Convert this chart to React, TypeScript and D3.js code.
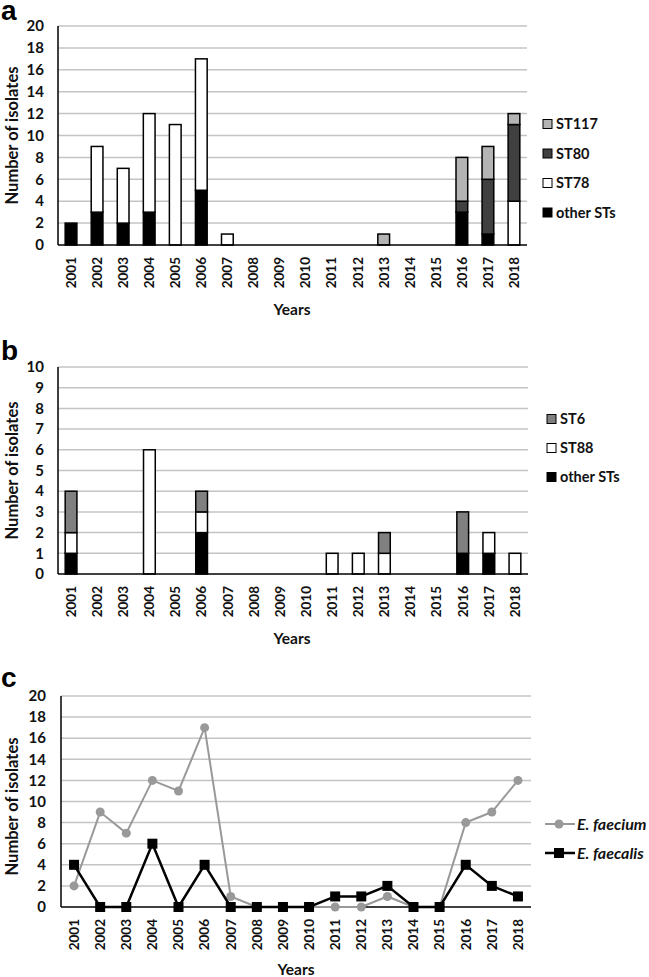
import React from "react";
import * as d3 from "d3";

const years = ["2001","2002","2003","2004","2005","2006","2007","2008","2009","2010","2011","2012","2013","2014","2015","2016","2017","2018"];

// Panel a (E. faecium STs)
const aOther = [2,3,2,3,0,5,0,0,0,0,0,0,0,0,0,3,1,0];
const aST78 = [0,6,5,9,11,12,1,0,0,0,0,0,0,0,0,0,0,4];
const aST80 = [0,0,0,0,0,0,0,0,0,0,0,0,0,0,0,1,5,7];
const aST117 = [0,0,0,0,0,0,0,0,0,0,0,0,1,0,0,4,3,1];
const aTicks = [0,2,4,6,8,10,12,14,16,18,20];

// Panel b (E. faecalis STs)
const bOther = [1,0,0,0,0,2,0,0,0,0,0,0,0,0,0,1,1,0];
const bST88 = [1,0,0,6,0,1,0,0,0,0,1,1,1,0,0,0,1,1];
const bST6 = [2,0,0,0,0,1,0,0,0,0,0,0,1,0,0,2,0,0];
const bTicks = [0,1,2,3,4,5,6,7,8,9,10];

// Panel c
const faecium = [2,9,7,12,11,17,1,0,0,0,0,0,1,0,0,8,9,12];
const faecalis = [4,0,0,6,0,4,0,0,0,0,1,1,2,0,0,4,2,1];
const cTicks = [0,2,4,6,8,10,12,14,16,18,20];

const FONT = "Lato, 'Open Sans', sans-serif";
const GRID = "#c4c4c4";

type Series = { key: string; values: number[]; color: string };

function Axes({ x0, x1, y, ticks, tickX, yearX, zeroY, labelTitleY, titleX, titleY }: any) {
  return (
    <g fontFamily={FONT} fontWeight={700}>
      {ticks.map((t: number) => (
        <g key={t}>
          {t !== 0 && <line x1={x0} x2={x1} y1={y(t)} y2={y(t)} stroke={GRID} strokeWidth={1.5} />}
          <text x={tickX} y={y(t)} dy="0.35em" textAnchor="end" fontSize={15} fill="#111">{t}</text>
        </g>
      ))}
      {years.map((yr) => (
        <text key={yr} transform={`translate(${yearX(yr)},${zeroY + 12}) rotate(-90)`} textAnchor="end" dy="0.36em" fontSize={13.5} fill="#111">{yr}</text>
      ))}
      <text x={titleX} y={titleY} textAnchor="middle" fontSize={15.5} fill="#111">Years</text>
      <text transform={`translate(12,${labelTitleY}) rotate(-90)`} textAnchor="middle" dy="0.35em" fontSize={16.5} fill="#111">Number of isolates</text>
    </g>
  );
}

function StackPanel({ series, ticks, top, bottom, left, right, legendX, legendY, legendGap }: any) {
  const max = ticks[ticks.length - 1];
  const y = d3.scaleLinear().domain([0, max]).range([bottom, top]);
  const x = d3.scaleBand().domain(years).range([left, right]).paddingInner(0.55).paddingOuter(0.275);
  const rows = years.map((yr, i) => {
    const r: any = { year: yr };
    series.forEach((s: Series) => (r[s.key] = s.values[i]));
    return r;
  });
  const stacked = d3.stack().keys(series.map((s: Series) => s.key))(rows);
  const legend = [...series].reverse();
  return (
    <g>
      <Axes x0={left} x1={right} y={y} ticks={ticks} tickX={44} yearX={(yr: string) => (x(yr) as number) + x.bandwidth() / 2} zeroY={bottom}
        labelTitleY={(top + bottom) / 2} titleX={292} titleY={bottom + 70} />
      {stacked.map((layer: any, li: number) => (
        <g key={layer.key}>
          {layer.map((d: any, i: number) =>
            d[1] - d[0] > 0 ? (
              <rect key={i} x={x(years[i])} width={x.bandwidth()} y={y(d[1])} height={y(d[0]) - y(d[1])}
                fill={series[li].color} stroke="#000" strokeWidth={1.5} />
            ) : null
          )}
        </g>
      ))}
      <line x1={left} x2={left} y1={top} y2={bottom} stroke="#000" strokeWidth={1.5} />
      <line x1={left} x2={right} y1={bottom} y2={bottom} stroke="#000" strokeWidth={1.5} />
      <g fontFamily={FONT} fontWeight={700}>
        {legend.map((s: Series, i: number) => (
          <g key={s.key} transform={`translate(${legendX},${legendY + i * legendGap})`}>
            <rect x={0} y={-4.5} width={9} height={9} fill={s.color} stroke="#000" strokeWidth={1} />
            <text x={13} y={0} dy="0.35em" fontSize={14.5} fill="#111">{s.key}</text>
          </g>
        ))}
      </g>
    </g>
  );
}

function LinePanel() {
  const top = 696, bottom = 907, left = 61, right = 531;
  const y = d3.scaleLinear().domain([0, 20]).range([bottom, top]);
  const x = d3.scalePoint().domain(years).range([left, right]).padding(0.5);
  const line = d3.line<number>().x((_, i) => x(years[i]) as number).y((v) => y(v));
  return (
    <g>
      <Axes x0={left} x1={right} y={y} ticks={cTicks} tickX={46} yearX={(yr: string) => x(yr) as number} zeroY={bottom}
        labelTitleY={(top + bottom) / 2 + 5} titleX={296} titleY={bottom + 68} />
      <line x1={left} x2={left} y1={top} y2={bottom} stroke="#000" strokeWidth={1.5} />
      <line x1={left} x2={right} y1={bottom} y2={bottom} stroke="#000" strokeWidth={1.5} />
      <path d={line(faecium) || ""} fill="none" stroke="#999" strokeWidth={2} />
      {faecium.map((v, i) => (
        <circle key={i} cx={x(years[i])} cy={y(v)} r={4.5} fill="#999" />
      ))}
      <path d={line(faecalis) || ""} fill="none" stroke="#000" strokeWidth={2.5} />
      {faecalis.map((v, i) => (
        <rect key={i} x={(x(years[i]) as number) - 5} y={y(v) - 5} width={10} height={10} fill="#000" />
      ))}
      <g fontFamily={FONT} fontWeight={700} fontStyle="italic" fontSize={16}>
        <g transform="translate(545,824)">
          <line x1={0} x2={30} y1={0} y2={0} stroke="#999" strokeWidth={2} />
          <circle cx={14} cy={0} r={4.5} fill="#999" />
          <text x={32} y={0} dy="0.35em" fill="#111">E. faecium</text>
        </g>
        <g transform="translate(545,853)">
          <line x1={0} x2={30} y1={0} y2={0} stroke="#000" strokeWidth={2.5} />
          <rect x={9} y={-5} width={10} height={10} fill="#000" />
          <text x={32} y={0} dy="0.35em" fill="#111">E. faecalis</text>
        </g>
      </g>
    </g>
  );
}

export default function App() {
  const seriesA: Series[] = [
    { key: "other STs", values: aOther, color: "#000" },
    { key: "ST78", values: aST78, color: "#fff" },
    { key: "ST80", values: aST80, color: "#404040" },
    { key: "ST117", values: aST117, color: "#b4b4b4" },
  ];
  const seriesB: Series[] = [
    { key: "other STs", values: bOther, color: "#000" },
    { key: "ST88", values: bST88, color: "#fff" },
    { key: "ST6", values: bST6, color: "#808080" },
  ];
  return (
    <svg width={649} height={977} style={{ position: "absolute", left: 0, top: 0, background: "#fff" }}>
      <rect width={649} height={977} fill="#fff" />
      <g fontFamily="'Liberation Sans', Arial, sans-serif" fontWeight={700} fontSize={28} fill="#000">
        <text x={1} y={20}>a</text>
        <text x={1} y={360}>b</text>
        <text x={1} y={687}>c</text>
      </g>
      <StackPanel series={seriesA} ticks={aTicks} top={26} bottom={245} left={58} right={527} legendX={543} legendY={124} legendGap={29.5} />
      <StackPanel series={seriesB} ticks={bTicks} top={367} bottom={574} left={58} right={528} legendX={547} legendY={419} legendGap={29} />
      <LinePanel />
    </svg>
  );
}
